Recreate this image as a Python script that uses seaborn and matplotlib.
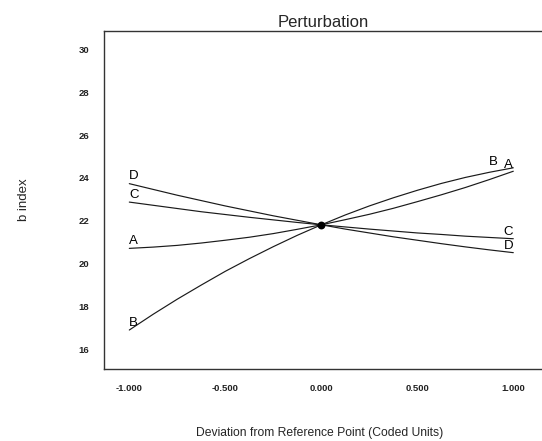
import numpy as np
import pandas as pd
import matplotlib
matplotlib.use("Agg")
import matplotlib.pyplot as plt
import seaborn as sns

# deviation from reference point (coded units)
deviation = [-1.0, -0.875, -0.75, -0.625, -0.5, -0.375, -0.25, -0.125, 0.0,
             0.125, 0.25, 0.375, 0.5, 0.625, 0.75, 0.875, 1.0]

# b index response along each factor
factor_a = [20.71, 20.77, 20.85, 20.96, 21.09, 21.23, 21.40, 21.60, 21.81,
            22.05, 22.30, 22.58, 22.89, 23.21, 23.55, 23.92, 24.31]
factor_b = [16.90, 17.64, 18.34, 19.00, 19.64, 20.23, 20.79, 21.32, 21.81,
            22.27, 22.69, 23.07, 23.42, 23.74, 24.02, 24.26, 24.47]
factor_c = [22.87, 22.72, 22.57, 22.42, 22.29, 22.16, 22.04, 21.92, 21.81,
            21.71, 21.61, 21.52, 21.43, 21.36, 21.28, 21.22, 21.16]
factor_d = [23.73, 23.46, 23.19, 22.94, 22.69, 22.46, 22.23, 22.02, 21.81,
            21.61, 21.43, 21.25, 21.09, 20.93, 20.78, 20.64, 20.51]

factors = ["A", "B", "C", "D"]
ref_point_x = [0.0]
ref_point_y = [21.81]

x_ticks = [-1.0, -0.5, 0.0, 0.5, 1.0]
x_tick_labels = ["-1.000", "-0.500", "0.000", "0.500", "1.000"]
y_ticks = [16, 18, 20, 22, 24, 26, 28, 30]

# build long-form table for seaborn
series = {"A": factor_a, "B": factor_b, "C": factor_c, "D": factor_d}
df = pd.DataFrame({
    "deviation": deviation * len(factors),
    "b_index": sum([series[f] for f in factors], []),
    "factor": sum([[f] * len(deviation) for f in factors], []),
})

sns.set_style("white")
plt.rcParams["font.family"] = ["Liberation Sans", "DejaVu Sans"]

W, H = 542, 441
fig = plt.figure(figsize=(W / 100, H / 100), dpi=100)
ax_left, ax_right, ax_top, ax_bottom = 104, 542, 31, 368.7
ax = fig.add_axes([ax_left / W, 1 - ax_bottom / H,
                   (ax_right - ax_left) / W, (ax_bottom - ax_top) / H])

line_color = "#1a1a1a"
sns.lineplot(data=df, x="deviation", y="b_index", hue="factor",
             palette={f: line_color for f in factors}, estimator=None,
             linewidth=0.85, legend=False, ax=ax)
sns.scatterplot(x=ref_point_x, y=ref_point_y, color="black", s=32,
                edgecolor="black", linewidth=0, zorder=5, ax=ax)

# curve labels at both ends
for f in factors:
    vals = series[f]
    ax.annotate(f, xy=(deviation[0], vals[0]), xytext=(0, 3),
                textcoords="offset points", ha="left", va="baseline",
                fontsize=9.5, color="black")
    # B sits left of A on the right side
    x_end = deviation[-1] if f != "B" else 0.92
    ax.annotate(f, xy=(x_end, vals[-1]), xytext=(0, 2.5 if f != "B" else 2),
                textcoords="offset points", ha="right", va="baseline",
                fontsize=9.5, color="black")

ax.set_xlim(-1.1318, -1.1318 + (ax_right - ax_left) / 192.0)
ax.set_ylim(15.095, 30.854)
ax.set_xticks(x_ticks)
ax.set_xticklabels(x_tick_labels)
ax.set_yticks(y_ticks)
ax.set_yticklabels([str(v) for v in y_ticks])

ax.tick_params(axis="x", direction="out", length=6, width=0.9, pad=5,
               labelsize=6.8, colors="black")
ax.tick_params(axis="y", direction="out", length=7.2, width=0.9, pad=3.5,
               labelsize=6.8, colors="black")
for lab in ax.get_xticklabels() + ax.get_yticklabels():
    lab.set_fontweight("bold")
    lab.set_color("#222222")

for side in ["left", "bottom", "top"]:
    ax.spines[side].set_visible(True)
    ax.spines[side].set_color("#333333")
    ax.spines[side].set_linewidth(1.0)
ax.spines["right"].set_visible(False)

ax.set_title("Perturbation", fontsize=12, pad=3)
ax.set_xlabel("Deviation from Reference Point (Coded Units)", fontsize=8.7)
ax.xaxis.set_label_coords((320 - ax_left) / (ax_right - ax_left), -(433 - ax_bottom) / (ax_bottom - ax_top))
ax.xaxis.label.set_va("center")
ax.set_ylabel("b index", fontsize=9.5)
ax.yaxis.set_label_coords((30 - ax_left) / (ax_right - ax_left), 0.5)

fig.savefig("out.png", dpi=100)
